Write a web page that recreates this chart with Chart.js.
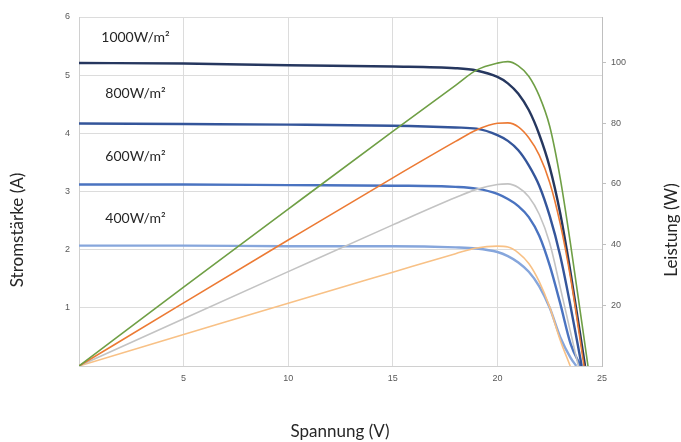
<!DOCTYPE html>
<html>
<head>
  <title>Kennlinien Solarmodul</title>
  <script src="https://cdn.jsdelivr.net/npm/chart.js@4.4.0/dist/chart.umd.min.js"></script>
  <style>
    body { margin: 0; background: #fff; }
    #wrap { width: 681px; height: 442px; }
  </style>
</head>
<body>
  <div id="wrap"><canvas id="kennlinie"></canvas></div>

  <script>
    // Spannung (V) – gemeinsame Stützstellen
    const spannung = [0, 5, 10, 15, 18, 19, 20, 20.5, 21, 21.5, 22, 22.5, 23, 23.5];

    // Stromstärke (A) je Einstrahlung
    const strom1000 = [5.21, 5.20, 5.17, 5.15, 5.12, 5.08, 4.97, 4.86, 4.68, 4.40, 3.98, 3.42, 2.63, 1.60];
    const strom800  = [4.17, 4.16, 4.15, 4.13, 4.10, 4.08, 3.97, 3.87, 3.71, 3.45, 3.10, 2.58, 1.90, 1.02];
    const strom600  = [3.12, 3.12, 3.11, 3.10, 3.08, 3.05, 2.96, 2.87, 2.75, 2.56, 2.24, 1.73, 1.08, 0.38];
    const strom400  = [2.07, 2.07, 2.06, 2.06, 2.04, 2.02, 1.96, 1.89, 1.78, 1.62, 1.37, 1.00, 0.50, 0.14];

    // Leistung (W) je Einstrahlung
    const leistung1000 = [0, 26.0, 51.7, 77.3, 92.5, 97.5, 99.8, 100.3, 98.9, 95.5, 89, 79, 62, 40];
    const leistung800  = [0, 20.8, 41.5, 62.0, 74.0, 77.8, 80.0, 80.1, 78.8, 75.2, 69.5, 60.5, 47, 29];
    const leistung600  = [0, 15.6, 31.1, 46.5, 55.5, 58.2, 59.8, 60.0, 58.8, 55.8, 50, 40.5, 26, 11];
    const leistung400  = [0, 10.35, 20.7, 30.9, 37.0, 38.9, 39.5, 39.2, 37.3, 33.8, 27.8, 19.4, 8.6, null];

    // Leerlaufspannung (Ende jeder Kurve, Wert 0)
    const endeStrom    = [24.19, 24.03, 23.98, 23.77];
    const endeLeistung = [24.33, 24.14, 23.87, 23.48];

    const einstrahlung = ['1000W/m²', '800W/m²', '600W/m²', '400W/m²'];
    const labelStrom   = [5.65, 4.69, 3.61, 2.54];

    const farbenStrom    = ['#26375f', '#34559a', '#4a73c0', '#86a6dc'];
    const farbenLeistung = ['#6f9f45', '#ec7a34', '#c3c3c3', '#f8c186'];

    function punkte(werte, ende) {
      const p = [];
      spannung.forEach((v, i) => { if (werte[i] !== null) p.push({ x: v, y: werte[i] }); });
      p.push({ x: ende, y: 0 });
      return p;
    }

    const stromReihen = [strom1000, strom800, strom600, strom400];
    const leistungReihen = [leistung1000, leistung800, leistung600, leistung400];

    const datasets = [];
    leistungReihen.forEach((r, k) => {
      datasets.push({
        label: 'P ' + einstrahlung[k],
        data: punkte(r, endeLeistung[k]),
        yAxisID: 'y2',
        borderColor: farbenLeistung[k],
        borderWidth: 1.6,
        pointRadius: 0,
        cubicInterpolationMode: 'monotone',
        fill: false
      });
    });
    stromReihen.forEach((r, k) => {
      datasets.push({
        label: 'I ' + einstrahlung[k],
        data: punkte(r, endeStrom[k]),
        yAxisID: 'y',
        borderColor: farbenStrom[k],
        borderWidth: 2.4,
        pointRadius: 0,
        cubicInterpolationMode: 'monotone',
        fill: false
      });
    });

    // Beschriftungen und Achsentitel
    const texte = {
      id: 'texte',
      afterDraw(chart) {
        const ctx = chart.ctx;
        const xs = chart.scales.x, ys = chart.scales.y;
        ctx.save();
        ctx.fillStyle = '#262626';
        ctx.font = '14px Lato';
        ctx.textAlign = 'center';
        ctx.textBaseline = 'middle';
        einstrahlung.forEach((t, k) => {
          ctx.fillText(t, xs.getPixelForValue(2.7), ys.getPixelForValue(labelStrom[k]));
        });
        ctx.font = '17px Lato';
        ctx.fillText('Spannung (V)', 340, 432);
        ctx.translate(18, 230);
        ctx.rotate(-Math.PI / 2);
        ctx.fillText('Stromstärke (A)', 0, 0);
        ctx.restore();
        ctx.save();
        ctx.fillStyle = '#262626';
        ctx.font = '17px Lato';
        ctx.textAlign = 'center';
        ctx.textBaseline = 'middle';
        ctx.translate(672, 230);
        ctx.rotate(-Math.PI / 2);
        ctx.fillText('Leistung (W)', 0, 0);
        ctx.restore();
      }
    };

    const tickFont = { family: 'Liberation Sans', size: 9 };

    new Chart(document.getElementById('kennlinie'), {
      type: 'line',
      data: { datasets },
      options: {
        responsive: true,
        maintainAspectRatio: false,
        animation: false,
        layout: { padding: { top: 17, left: 0, right: 0, bottom: 0 } },
        plugins: { legend: { display: false }, tooltip: { enabled: false } },
        scales: {
          x: {
            type: 'linear',
            min: 0, max: 25,
            ticks: { stepSize: 5, padding: 7, color: '#595959', font: tickFont,
              callback: v => v === 0 ? '' : v },
            grid: { color: '#dcdcdc', drawTicks: false },
            border: { color: '#d0d0d0' },
            afterFit: s => { s.height = 76; }
          },
          y: {
            position: 'left',
            min: 0, max: 6,
            ticks: { stepSize: 1, padding: 9, color: '#595959', font: tickFont,
              callback: v => v === 0 ? '' : v },
            grid: { color: '#dcdcdc', drawTicks: false },
            border: { color: '#d0d0d0' },
            afterFit: s => { s.width = 79; }
          },
          y2: {
            position: 'right',
            min: 0, max: 115,
            ticks: { stepSize: 20, padding: 5, color: '#595959', font: tickFont },
            afterBuildTicks: s => { s.ticks = s.ticks.filter(t => t.value > 0 && t.value <= 100); },
            grid: { drawOnChartArea: false, tickLength: 4, color: '#bfbfbf' },
            border: { color: '#bfbfbf' },
            afterFit: s => { s.width = 79; }
          }
        }
      },
      plugins: [texte]
    });
  </script>
</body>
</html>
